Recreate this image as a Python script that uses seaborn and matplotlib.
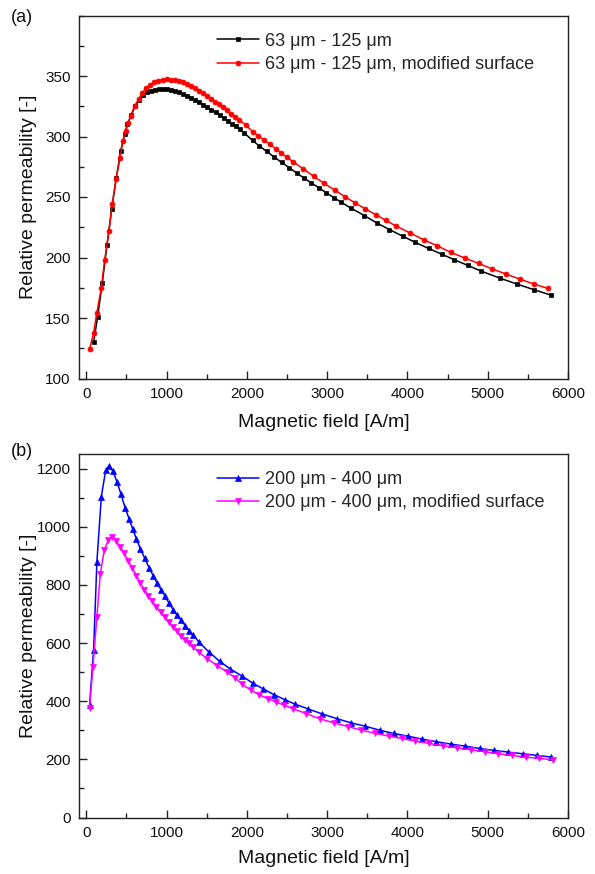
import matplotlib
matplotlib.use("Agg")
import matplotlib.pyplot as plt
import seaborn as sns
import numpy as np
from matplotlib.ticker import MultipleLocator, FixedLocator

# ---------------- data ----------------
# panel (a): 63 um - 125 um
H_a1 = [92, 142, 200, 258, 317, 375, 429, 479, 512,
        562, 610, 660, 710, 760, 810, 860, 910, 960, 1010, 1060, 1110, 1160, 1210, 1260,
        1310, 1360, 1410, 1460, 1510, 1560, 1610, 1660, 1710, 1760, 1810, 1860, 1910,
        1967, 2071, 2154, 2246, 2342, 2433, 2529, 2621, 2712, 2804, 2900, 2992, 3083, 3175,
        3300, 3463, 3617, 3775, 3942, 4100, 4263, 4425, 4583, 4750, 4917, 5150, 5362, 5571, 5792]
mu_a1 = [130, 151, 179, 210, 240, 266, 288, 302, 310,
         318, 325, 330, 334, 336.5, 338, 338.8, 339.2, 339.2, 339.0, 338.5, 337.7, 336.6, 335.3, 333.8,
         332.1, 330.3, 328.4, 326.4, 324.3, 322.1, 319.9, 317.6, 315.3, 313.0, 310.7, 308.4, 306.1,
         303.0, 296.7, 292.3, 287.7, 283.0, 278.6, 274.2, 269.8, 265.7, 261.6, 257.5, 253.4, 249.5, 245.7,
         240.7, 234.7, 228.6, 223.1, 217.6, 212.4, 207.5, 202.8, 198.2, 193.5, 188.8, 183.0, 178.1, 173.5, 168.8]

# panel (a): 63 um - 125 um, modified surface
H_a2 = [42, 92, 133, 188, 229, 283, 325, 371, 421, 454, 492, 525, 554,
        604, 654, 700, 750,
        800, 850, 900, 950, 1000, 1050, 1100, 1150, 1200, 1250, 1300, 1350, 1400, 1450, 1500,
        1550, 1600, 1650, 1700, 1750, 1800, 1850, 1900,
        1987,
        2071, 2142, 2208, 2287, 2358, 2429, 2504, 2575,
        2700, 2833, 2962, 3092, 3221, 3350, 3475, 3604, 3733, 3862,
        4029, 4204, 4371, 4542, 4717, 4887, 5058, 5229, 5404, 5575, 5746]
mu_a2 = [124, 138, 154.5, 175, 197.6, 221.5, 244.3, 265.2, 282, 296, 304.7, 311.5, 317,
         325.5, 331, 336.3, 340.1,
         342.8, 344.8, 346.2, 347.0, 347.3, 347.1, 346.6, 345.8, 344.7, 343.3, 341.7, 339.9, 337.9, 335.8, 333.6,
         331.3, 328.9, 326.5, 324.0, 321.5, 319.0, 316.5, 314.0,
         309.5,
         304.1, 300.6, 297.3, 293.7, 289.9, 286.3, 282.7, 279.2,
         273.4, 267.1, 261.3, 255.8, 250.3, 245.1, 240.2, 235.5, 230.6, 225.9,
         220.4, 214.6, 209.7, 204.2, 199.5, 195.1, 190.5, 186.3, 182.0, 178.1, 174.5]

# panel (b): 200 um - 400 um
H_b1 = [42, 92, 133, 188, 242, 288, 333, 383, 433, 483,
        533, 579, 625, 675, 729, 783, 833, 883, 933, 983,
        1033, 1083, 1133, 1183, 1233, 1283, 1333,
        1404, 1529, 1662, 1792,
        1946, 2071, 2204, 2337, 2471, 2604, 2762, 2937, 3117, 3296,
        3475, 3654, 3829, 4008, 4183, 4362, 4542, 4717, 4900, 5079,
        5258, 5437, 5617, 5792]
mu_b1 = [388, 577, 880, 1103, 1194, 1208, 1191, 1154, 1112, 1066,
         1028, 992, 958, 923, 891, 859, 832, 806, 783, 760,
         737, 714, 695, 678, 660, 643, 628,
         603, 569, 537, 511,
         485.5, 462.6, 442.1, 422.6, 405.5, 389.5, 373.5, 356.3, 340.3, 325.5,
         314.0, 300.3, 288.9, 279.7, 269.5, 260.3, 252.3, 245.5, 237.4, 230.6,
         224.9, 219.1, 213.4, 207.7]

# panel (b): 200 um - 400 um, modified surface
H_b2 = [42, 83, 133, 175, 225, 275, 325, 375, 425, 475,
        525, 575, 625, 675, 725, 775, 825, 875, 925, 975,
        1025, 1075, 1125, 1175, 1225, 1275, 1325,
        1404, 1508, 1633, 1758, 1850,
        1946, 2050, 2154, 2258, 2362, 2467, 2571,
        2737, 2912, 3083, 3258, 3425, 3592, 3767, 3933, 4100, 4271,
        4446, 4612, 4792, 4967, 5133, 5308, 5475, 5642, 5812]
mu_b2 = [377, 517, 691, 838, 920, 954, 965, 951, 931, 908,
         882, 857, 832, 806, 783, 762, 743, 723, 705, 688,
         672, 656, 640, 625, 611, 599, 586,
         568, 546, 522, 500, 481,
         458, 437.5, 422.6, 409, 397.5, 386, 374.6,
         357.5, 339.2, 325.5, 312.9, 300.3, 290, 279.7, 271.7, 262.6, 254.6,
         246.6, 239.7, 232.9, 226, 219.2, 213.4, 207.7, 203.1, 198.6]

labels_a = ["63 \u03bcm - 125 \u03bcm", "63 \u03bcm - 125 \u03bcm, modified surface"]
labels_b = ["200 \u03bcm - 400 \u03bcm", "200 \u03bcm - 400 \u03bcm, modified surface"]
x_label = "Magnetic field [A/m]"
y_label = "Relative permeability [-]"
x_ticks = [0, 1000, 2000, 3000, 4000, 5000, 6000]
y_ticks_a = [100, 150, 200, 250, 300, 350]
y_ticks_b = [0, 200, 400, 600, 800, 1000, 1200]

# ---------------- style ----------------
sns.set_style("ticks")
plt.rcParams['font.family'] = ['Liberation Sans', 'DejaVu Sans']
plt.rcParams['axes.linewidth'] = 1.0
plt.rcParams['axes.edgecolor'] = '#222222'

fig = plt.figure(figsize=(5.95, 8.74), dpi=100)
W, Hh = 595, 874

def axes_px(left, top, right, bottom):
    return fig.add_axes([left / W, 1 - bottom / Hh, (right - left) / W, (bottom - top) / Hh])

ax1 = axes_px(79, 15.5, 568, 378.5)
ax2 = axes_px(79, 454, 568, 817.5)

def series(ax, x, y, color, marker, ms, label):
    sns.lineplot(x=x, y=y, ax=ax, color=color, marker=marker, markersize=ms,
                 markeredgecolor=color, markeredgewidth=0.5, linewidth=1.1,
                 estimator=None, sort=False, label=label)

series(ax1, H_a1, mu_a1, "black", "s", 3.0, labels_a[0])
series(ax1, H_a2, mu_a2, "#ff0000", "o", 3.6, labels_a[1])
series(ax2, H_b1, mu_b1, "#0000ff", "^", 4.0, labels_b[0])
series(ax2, H_b2, mu_b2, "#ff00ff", "v", 4.0, labels_b[1])

for ax, yt, ylim, yminor in [(ax1, y_ticks_a, (100, 400), 25), (ax2, y_ticks_b, (0, 1250), 100)]:
    ax.set_xlim(-90, 6000)
    ax.set_ylim(*ylim)
    ax.xaxis.set_major_locator(FixedLocator(x_ticks))
    ax.xaxis.set_minor_locator(MultipleLocator(500))
    ax.yaxis.set_major_locator(FixedLocator(yt))
    ax.yaxis.set_minor_locator(MultipleLocator(yminor))
    ax.tick_params(which='both', direction='in', top=False, right=False,
                   labelsize=11, colors='#222222', labelcolor='#111111')
    ax.tick_params(which='major', length=6, width=1.0, pad=6)
    ax.tick_params(which='minor', length=3.5, width=1.0)
    for s in ax.spines.values():
        s.set_visible(True)
    ax.set_xlabel(x_label, fontsize=14, color='#111111')
    ax.set_ylabel(y_label, fontsize=14, color='#111111')
    ax.xaxis.label.set_va('center')
    ax.yaxis.label.set_va('center')
    ax.yaxis.set_label_coords(-0.103, 0.5)
    ax.legend(loc='upper left', bbox_to_anchor=(0.283, 0.953), frameon=False,
              borderpad=0, borderaxespad=0, handlelength=2.3, handletextpad=0.35,
              labelspacing=0.35, fontsize=13, numpoints=1)

ax1.xaxis.set_label_coords(0.5, -0.122)
ax2.xaxis.set_label_coords(0.5, -0.113)

fig.text(22 / W, 1 - 17 / Hh, "(a)", fontsize=13, ha='center', va='center', color='#111111')
fig.text(22 / W, 1 - 452 / Hh, "(b)", fontsize=13, ha='center', va='center', color='#111111')

fig.savefig("out.png", dpi=100, facecolor='white')
